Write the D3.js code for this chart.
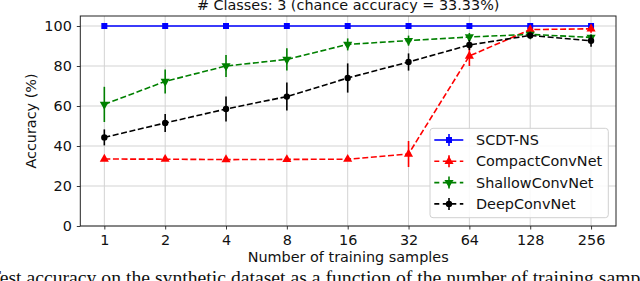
<!DOCTYPE html>
<html>
<head>
<meta charset="utf-8">
<script src="https://cdn.jsdelivr.net/npm/d3@7"></script>
<style>
  body { margin: 0; background: white; }
  text { font-family: "DejaVu Sans", sans-serif; }
</style>
</head>
<body>
<div id="acc-chart"></div>
<script>
const id_ref = "#acc-chart"

// data
const samples = ["1", "2", "4", "8", "16", "32", "64", "128", "256"];
const seriesNames = ["SCDT-NS", "CompactConvNet", "ShallowConvNet", "DeepConvNet"];
const scdtMean = [100, 100, 100, 100, 100, 100, 100, 100, 100];
const scdtErr = [0.3, 0.3, 0.3, 0.3, 0.3, 0.3, 0.3, 0.3, 0.3];
const compactMean = [33.5, 33.4, 33.2, 33.3, 33.4, 36, 85, 98.2, 98.6];
const compactErr = [0.6, 0.6, 0.6, 0.6, 0.6, 6.5, 5, 1.5, 2];
const shallowMean = [60.8, 72.3, 80, 83.3, 90.8, 92.7, 94.5, 95.8, 94.3];
const shallowErr = [8.8, 6, 5.5, 5.6, 3, 2.5, 2, 1.5, 1.5];
const deepMean = [44.3, 51.5, 58.5, 64.7, 74, 82, 90.5, 95.3, 92.6];
const deepErr = [4, 4.5, 6.3, 7, 7.3, 4.3, 2.5, 1.5, 3];
const yTicks = [0, 20, 40, 60, 80, 100];

const W = 640, H = 281,
    plot = { left: 80.3, right: 616, top: 16, bottom: 226 },
    fs = 14.4;

const svg = d3.select(id_ref)
    .append("svg")
    .attr("width", W)
    .attr("height", H);

const x = d3.scaleLinear()
    .domain([-0.395, 8.41])
    .range([plot.left, plot.right]);

const y = d3.scaleLinear()
    .domain([0, 105])
    .range([plot.bottom, plot.top]);

// grid
svg.append("g")
    .selectAll("line.vgrid")
    .data(samples)
    .join("line")
    .attr("x1", (d, i) => x(i)).attr("x2", (d, i) => x(i))
    .attr("y1", plot.top).attr("y2", plot.bottom)
    .attr("stroke", "#d3d3d3").attr("stroke-width", 1);

svg.append("g")
    .selectAll("line.hgrid")
    .data(yTicks)
    .join("line")
    .attr("x1", plot.left).attr("x2", plot.right)
    .attr("y1", d => y(d)).attr("y2", d => y(d))
    .attr("stroke", "#d3d3d3").attr("stroke-width", 1);

// axes
const xAxis = svg.append("g")
    .attr("transform", `translate(0,${plot.bottom})`)
    .call(d3.axisBottom(x)
        .tickValues(d3.range(samples.length))
        .tickFormat(i => samples[i])
        .tickSize(3.5)
        .tickPadding(5.3));

const yAxis = svg.append("g")
    .attr("transform", `translate(${plot.left},0)`)
    .call(d3.axisLeft(y)
        .tickValues(yTicks)
        .tickSize(3.5)
        .tickPadding(5));

[xAxis, yAxis].forEach(a => {
    a.select(".domain").remove();
    a.selectAll("text")
        .style("font-family", "DejaVu Sans, sans-serif")
        .style("font-size", fs + "px")
        .attr("fill", "#111");
    a.selectAll(".tick line").attr("stroke", "#222").attr("stroke-width", 0.9);
});

// frame
svg.append("rect")
    .attr("x", plot.left).attr("y", plot.top)
    .attr("width", plot.right - plot.left)
    .attr("height", plot.bottom - plot.top)
    .attr("fill", "none")
    .attr("stroke", "#222")
    .attr("stroke-width", 1);

// series
const series = [
    { name: seriesNames[0], mean: scdtMean, err: scdtErr, color: "#0000ff", dash: null, sym: d3.symbolSquare, size: 36, rot: 0 },
    { name: seriesNames[1], mean: compactMean, err: compactErr, color: "#ff0000", dash: "6,2.6", sym: d3.symbolTriangle, size: 36, rot: 0 },
    { name: seriesNames[2], mean: shallowMean, err: shallowErr, color: "#008000", dash: "6,2.6", sym: d3.symbolTriangle, size: 36, rot: 180 },
    { name: seriesNames[3], mean: deepMean, err: deepErr, color: "#000000", dash: "6,2.6", sym: d3.symbolCircle, size: 32, rot: 0 }
];

const line = d3.line()
    .x((d, i) => x(i))
    .y(d => y(d));

series.forEach(s => {
    const g = svg.append("g");

    g.selectAll("line.err")
        .data(s.mean)
        .join("line")
        .attr("x1", (d, i) => x(i)).attr("x2", (d, i) => x(i))
        .attr("y1", (d, i) => y(d - s.err[i]))
        .attr("y2", (d, i) => y(d + s.err[i]))
        .attr("stroke", s.color)
        .attr("stroke-width", 1.6);

    g.append("path")
        .datum(s.mean)
        .attr("d", line)
        .attr("fill", "none")
        .attr("stroke", s.color)
        .attr("stroke-width", 1.6)
        .attr("stroke-dasharray", s.dash);

    g.selectAll("path.mk")
        .data(s.mean)
        .join("path")
        .attr("class", "mk")
        .attr("d", d3.symbol().type(s.sym).size(s.size))
        .attr("transform", (d, i) => `translate(${x(i)},${y(d)}) rotate(${s.rot})`)
        .attr("fill", s.color);
});

// legend
const lg = { x: 430, y: 128.3, w: 178.3, h: 89.4, row: 21.3, first: 140 };
const legend = svg.append("g");

legend.append("rect")
    .attr("x", lg.x).attr("y", lg.y)
    .attr("width", lg.w).attr("height", lg.h)
    .attr("rx", 3)
    .attr("fill", "white")
    .attr("fill-opacity", 0.85)
    .attr("stroke", "#d0d0d0")
    .attr("stroke-width", 1);

series.forEach((s, i) => {
    const cy = lg.first + i * lg.row;
    legend.append("line")
        .attr("x1", 434.3).attr("x2", 463.3)
        .attr("y1", cy).attr("y2", cy)
        .attr("stroke", s.color)
        .attr("stroke-width", 1.6)
        .attr("stroke-dasharray", s.dash ? "5,3.5" : null);
    legend.append("line")
        .attr("x1", 449).attr("x2", 449)
        .attr("y1", cy - 6).attr("y2", cy + 6)
        .attr("stroke", s.color)
        .attr("stroke-width", 1.6);
    legend.append("path")
        .attr("d", d3.symbol().type(s.sym).size(s.size))
        .attr("transform", `translate(449,${cy}) rotate(${s.rot})`)
        .attr("fill", s.color);
    legend.append("text")
        .attr("x", 476)
        .attr("y", cy)
        .attr("dy", "0.36em")
        .style("font-size", fs + "px")
        .attr("fill", "#111")
        .text(s.name);
});

// title
svg.append("text")
    .attr("x", (plot.left + plot.right) / 2)
    .attr("y", 10)
    .attr("text-anchor", "middle")
    .style("font-size", fs + "px")
    .attr("fill", "#111")
    .text("# Classes: 3 (chance accuracy = 33.33%)");

// axis labels
svg.append("text")
    .attr("x", (plot.left + plot.right) / 2)
    .attr("y", 261.5)
    .attr("text-anchor", "middle")
    .style("font-size", fs + "px")
    .attr("fill", "#111")
    .text("Number of training samples");

svg.append("text")
    .attr("transform", `translate(36,${(plot.top + plot.bottom) / 2}) rotate(-90)`)
    .attr("text-anchor", "middle")
    .style("font-size", fs + "px")
    .attr("fill", "#111")
    .text("Accuracy (%)");

// caption fragment below the figure
svg.append("text")
    .attr("x", -11)
    .attr("y", 284)
    .style("font-family", "Liberation Serif, serif")
    .style("font-size", "19.7px")
    .attr("fill", "#111")
    .text("Test accuracy on the synthetic dataset as a function of the number of training samples.");
</script>
</body>
</html>
